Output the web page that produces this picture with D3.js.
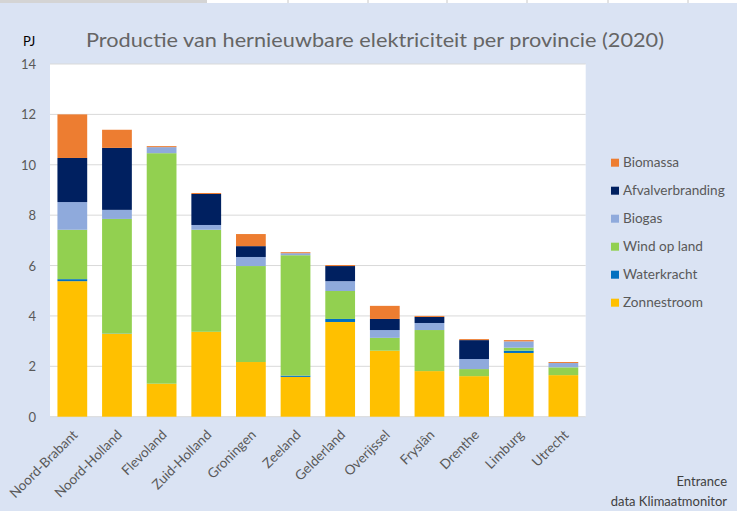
<!DOCTYPE html>
<html><head><meta charset="utf-8">
<script src="https://cdn.jsdelivr.net/npm/d3@7"></script>
<style>body{margin:0;background:#DAE3F3;} svg{display:block;}</style>
</head><body>
<svg id="c" width="737" height="511"></svg>
<script>
const provinces = ["Noord-Brabant","Noord-Holland","Flevoland","Zuid-Holland","Groningen","Zeeland","Gelderland","Overijssel","Fryslân","Drenthe","Limburg","Utrecht"];
const seriesNames = ["Zonnestroom","Waterkracht","Wind op land","Biogas","Afvalverbranding","Biomassa"];
const seriesColors = ["#FFC000","#0070C0","#92D050","#8FAADC","#002060","#ED7D31"];
const zonnestroom      = [5.38,3.29,1.31,3.37,2.17,1.58,3.76,2.62,1.81,1.61,2.53,1.65];
const waterkracht      = [0.08,0.01,0.00,0.00,0.00,0.05,0.12,0.00,0.00,0.00,0.09,0.00];
const windOpLand       = [1.96,4.55,9.15,4.05,3.81,4.78,1.11,0.51,1.63,0.28,0.12,0.31];
const biogas           = [1.10,0.36,0.24,0.19,0.36,0.08,0.39,0.31,0.28,0.40,0.25,0.17];
const afvalverbranding = [1.75,2.46,0.00,1.23,0.43,0.00,0.60,0.44,0.24,0.75,0.00,0.00];
const biomassa         = [1.73,0.72,0.04,0.04,0.48,0.04,0.04,0.52,0.04,0.04,0.05,0.04];
const yTicks = [0,2,4,6,8,10,12,14];
const title = "Productie van hernieuwbare elektriciteit per provincie (2020)";
const unitLabel = "PJ";
const sourceLines = ["Entrance","data Klimaatmonitor"];

const seriesValues = [zonnestroom,waterkracht,windOpLand,biogas,afvalverbranding,biomassa];
const rows = provinces.map((p,i)=>{const r={prov:p}; seriesNames.forEach((s,j)=>r[s]=seriesValues[j][i]); return r;});
const stacked = d3.stack().keys(seriesNames)(rows);

const svg = d3.select("#c");
const font = "Lato, 'Open Sans', sans-serif";
const L=50, R=585.7, T=64, B=416.7;

// top strip (spreadsheet header remnant)
svg.append("rect").attr("x",0).attr("y",0).attr("width",737).attr("height",3).attr("fill","#ffffff");
svg.append("rect").attr("x",0).attr("y",0).attr("width",207).attr("height",3).attr("fill","#d4d4d4");
[288,368,447,527,608,688].forEach(x=>svg.append("line").attr("x1",x).attr("x2",x).attr("y1",0).attr("y2",3).attr("stroke","#c8c8c8"));

const x = d3.scaleBand().domain(provinces).range([L,R]).paddingInner(1/3).paddingOuter(1/6);
const y = d3.scaleLinear().domain([0,14]).range([B,T]);

svg.append("rect").attr("x",L).attr("y",T).attr("width",R-L).attr("height",B-T).attr("fill","#fff");

svg.append("g").selectAll("line").data(yTicks).join("line")
  .attr("x1",L).attr("x2",R).attr("y1",d=>y(d)).attr("y2",d=>y(d))
  .attr("stroke","#d9d9d9").attr("stroke-width",1);

svg.append("g").selectAll("g").data(stacked).join("g")
  .attr("fill",(d,i)=>seriesColors[i])
  .selectAll("rect").data(d=>d).join("rect")
  .attr("x",d=>x(d.data.prov)).attr("width",x.bandwidth())
  .attr("y",d=>y(d[1])).attr("height",d=>Math.max(0,y(d[0])-y(d[1])));

// y axis labels
const yAxis = d3.axisLeft(y).tickValues(yTicks).tickSize(0).tickPadding(0);
const ya = svg.append("g").attr("transform",`translate(36,0)`).call(yAxis);
ya.select(".domain").remove();
ya.selectAll("text").attr("font-family",font).attr("font-size",13).attr("fill","#595959").attr("dy","0.35em");

// x axis labels
const xa = svg.append("g").attr("transform",`translate(0,${B})`).call(d3.axisBottom(x).tickSize(0).tickPadding(0));
xa.select(".domain").remove();
xa.selectAll("text")
  .attr("font-family",font).attr("font-size",13.5).attr("fill","#595959")
  .attr("text-anchor","end").attr("dy",null).attr("y",0)
  .attr("transform","translate(6,19) rotate(-45)");

// title
svg.append("text").attr("x",86).attr("y",47).attr("font-family",font).attr("font-size",20)
  .attr("fill","#656565").attr("textLength",578).attr("lengthAdjust","spacingAndGlyphs").text(title);
svg.append("text").attr("x",23).attr("y",46).attr("font-family",font).attr("font-size",13).attr("fill","#000").text(unitLabel);

// legend
const legendNames = seriesNames.slice().reverse();
const legendColors = seriesColors.slice().reverse();
const lg = svg.append("g");
legendNames.forEach((n,i)=>{
  const cy = 162.7 + i*28;
  lg.append("rect").attr("x",611).attr("y",cy-4).attr("width",8).attr("height",8).attr("fill",legendColors[i]);
  lg.append("text").attr("x",623).attr("y",cy).attr("dy","0.35em").attr("font-family",font).attr("font-size",13.6).attr("fill","#595959").text(n);
});

// source
sourceLines.forEach((s,i)=>{
  svg.append("text").attr("x",727).attr("y",486+i*20).attr("text-anchor","end").attr("font-family",font)
    .attr("font-size",13).attr("fill","#404040").text(s);
});
</script>
</body></html>
